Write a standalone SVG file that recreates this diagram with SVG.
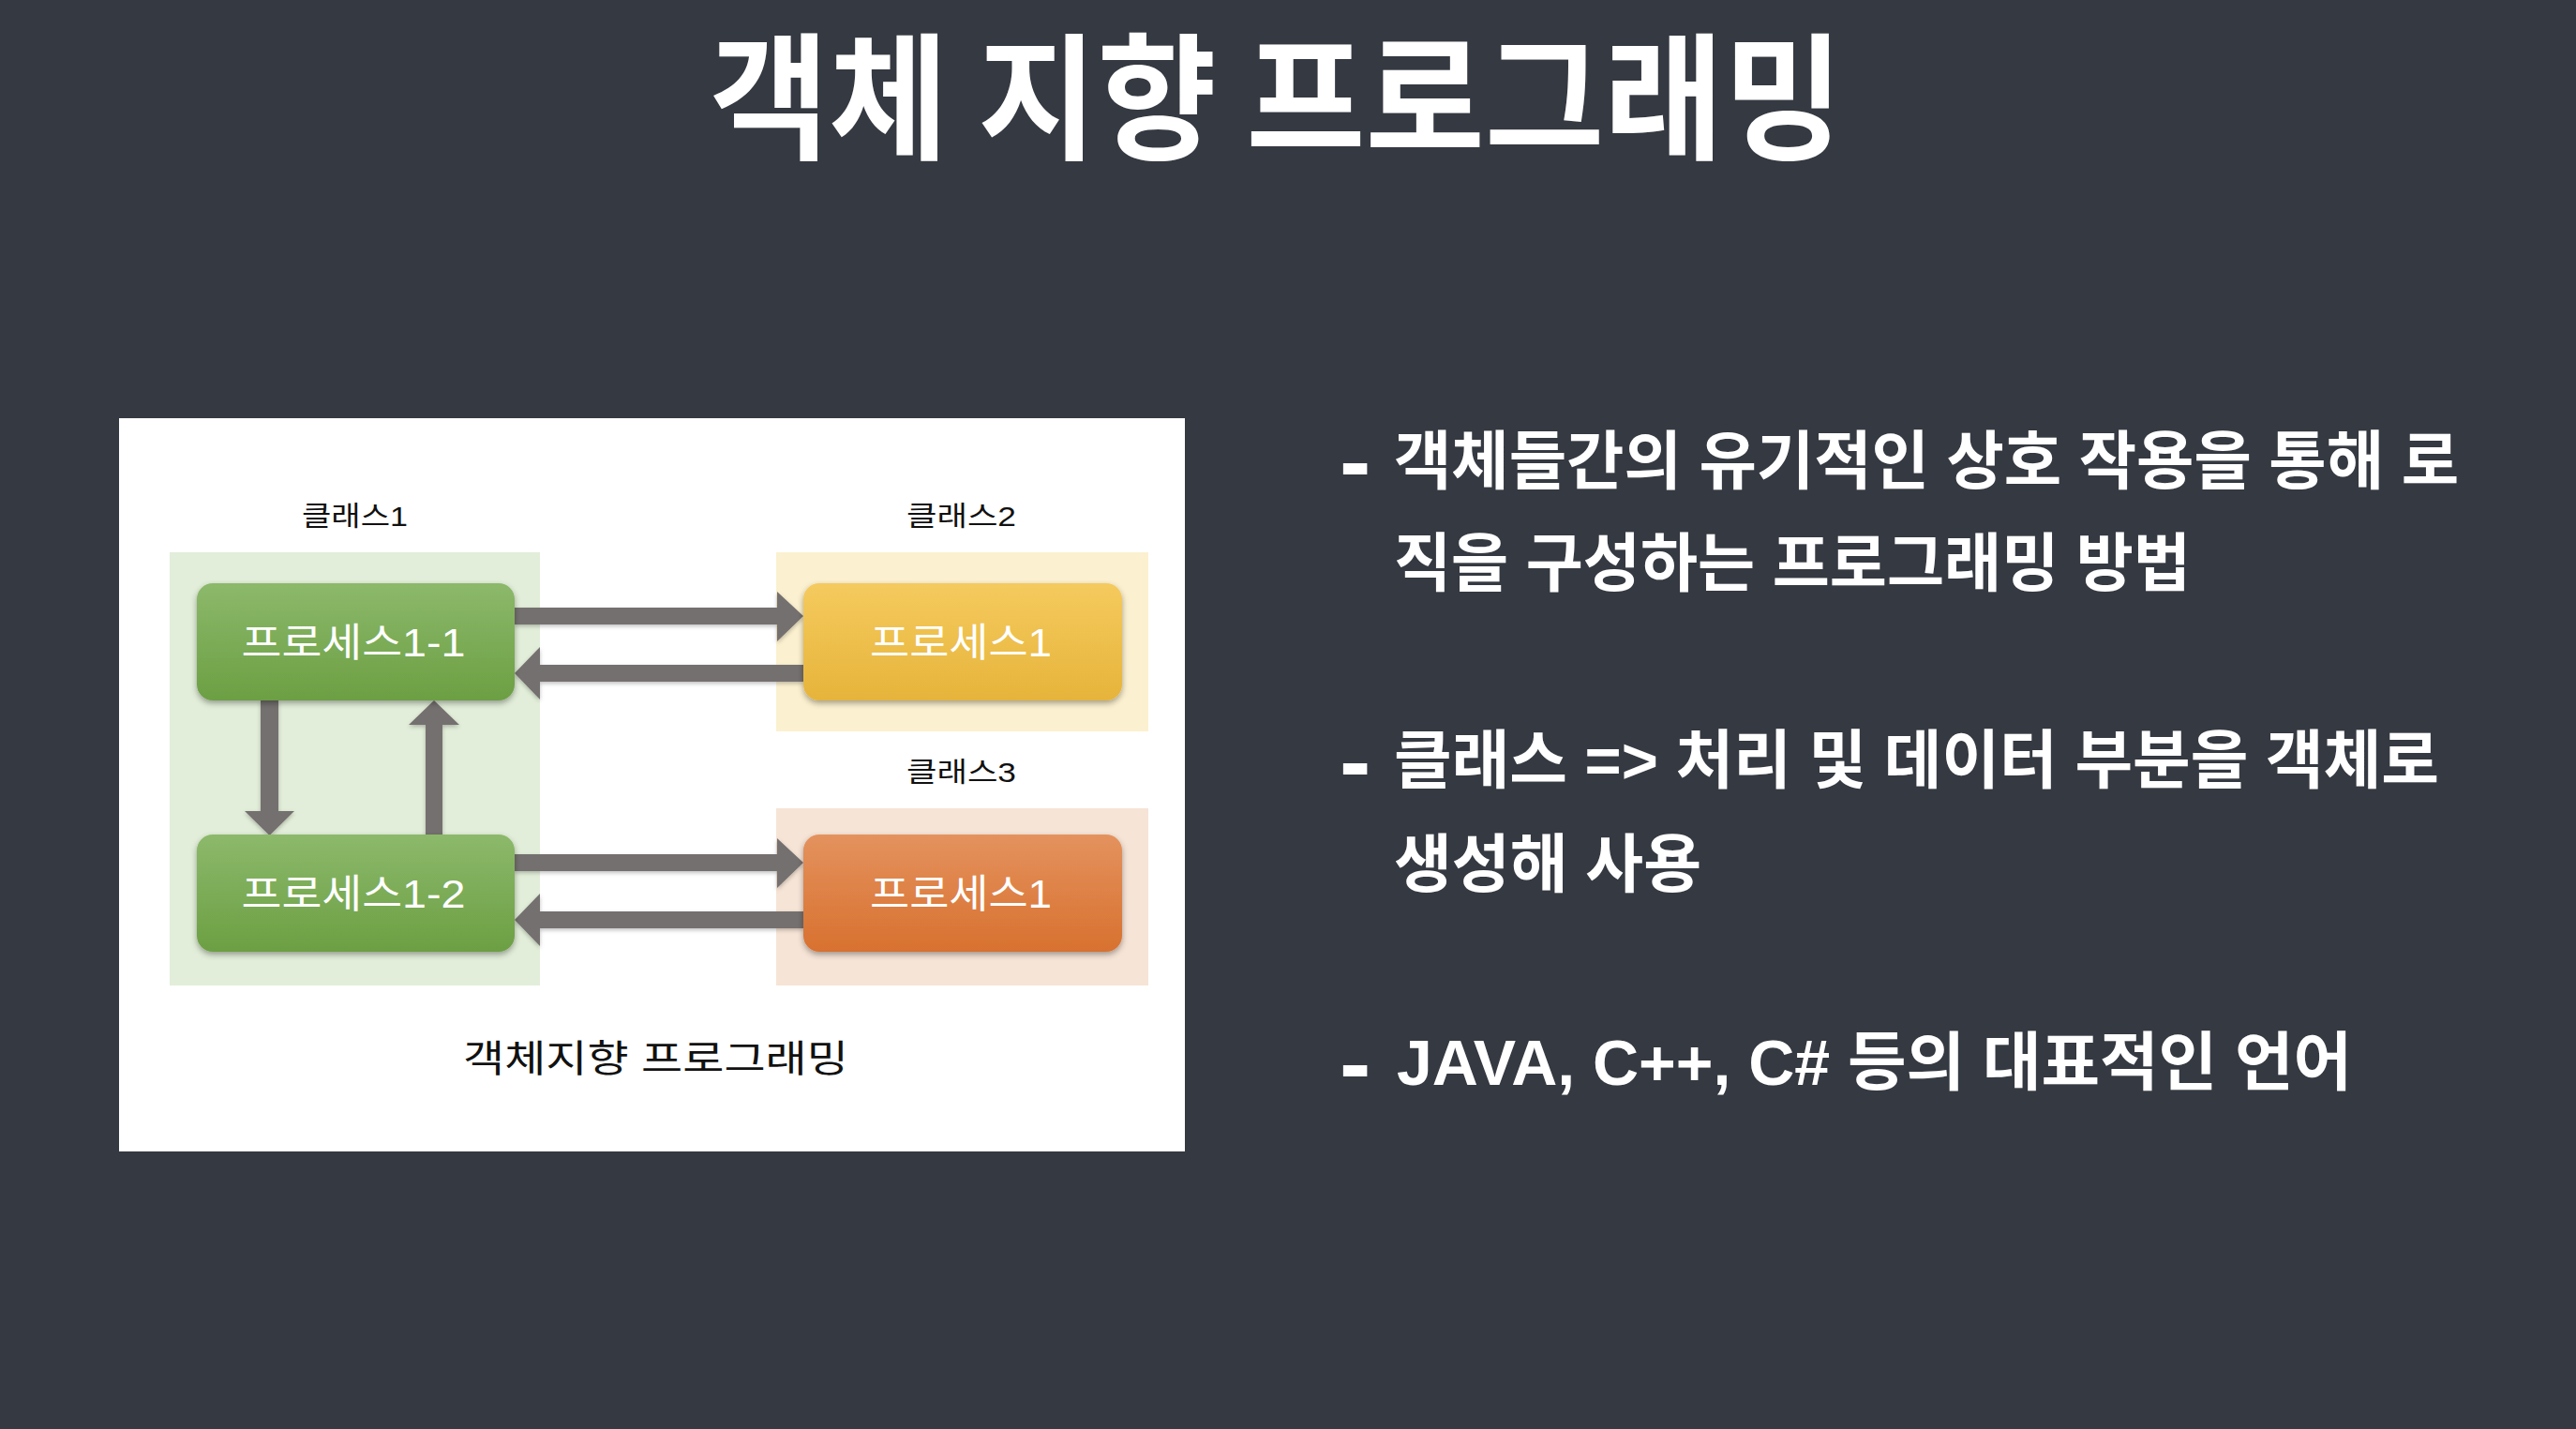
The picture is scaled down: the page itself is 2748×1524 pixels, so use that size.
<svg xmlns="http://www.w3.org/2000/svg" width="2748" height="1524" viewBox="0 0 2748 1524">
<style>
.title{font-family:"Noto Sans CJK KR",sans-serif;font-weight:700;font-size:146px;fill:#ffffff}
.bul{font-family:"Liberation Sans","Noto Sans CJK KR",sans-serif;font-weight:700;font-size:68px;fill:#ffffff}
.dash{font-family:"Liberation Sans",sans-serif;font-weight:700;font-size:100px;fill:#ffffff}
.cls{font-family:"Liberation Sans","Noto Sans CJK KR",sans-serif;font-size:29px;fill:#111111}
.box{font-family:"Liberation Sans","Noto Sans CJK KR",sans-serif;font-size:42px;fill:#ffffff;text-anchor:middle}
.cap{font-family:"Liberation Sans","Noto Sans CJK KR",sans-serif;font-size:40px;fill:#111111}
.arrow{fill:#74706f;filter:url(#ash)}
</style>
<defs>
<linearGradient id="gGreen" x1="0" y1="0" x2="0" y2="1"><stop offset="0" stop-color="#8cb96b"/><stop offset="1" stop-color="#6c9f43"/></linearGradient>
<linearGradient id="gYellow" x1="0" y1="0" x2="0" y2="1"><stop offset="0" stop-color="#f5ca5e"/><stop offset="1" stop-color="#e6b43a"/></linearGradient>
<linearGradient id="gOrange" x1="0" y1="0" x2="0" y2="1"><stop offset="0" stop-color="#e4925e"/><stop offset="1" stop-color="#d8712f"/></linearGradient>
<filter id="bsh" x="-10%" y="-10%" width="120%" height="130%"><feDropShadow dx="0" dy="3" stdDeviation="3" flood-color="#000" flood-opacity="0.35"/></filter>
<filter id="ash" x="-10%" y="-20%" width="120%" height="140%"><feDropShadow dx="0" dy="2" stdDeviation="2" flood-color="#000" flood-opacity="0.25"/></filter>
</defs>
<rect width="2748" height="1524" fill="#353941"/>
<text class="title" x="757" y="158" textLength="1209" lengthAdjust="spacingAndGlyphs">객체 지향 프로그래밍</text>

<g id="panel">
<rect x="127" y="446" width="1137" height="782" fill="#ffffff"/>
<rect x="181" y="589" width="395" height="462" fill="#e2eed9"/>
<rect x="828" y="589" width="397" height="191" fill="#fbf0cf"/>
<rect x="828" y="862" width="397" height="189" fill="#f6e4d6"/>
<text class="cls" x="322" y="561" textLength="113" lengthAdjust="spacingAndGlyphs">클래스1</text>
<text class="cls" x="967" y="561" textLength="117" lengthAdjust="spacingAndGlyphs">클래스2</text>
<text class="cls" x="967" y="834" textLength="117" lengthAdjust="spacingAndGlyphs">클래스3</text>
<text class="cap" x="494" y="1143" textLength="411" lengthAdjust="spacingAndGlyphs">객체지향 프로그래밍</text>
</g>

<g id="connectors">
<path class="arrow" d="M549,648 L829,648 L829,631 L857,657 L829,684 L829,666 L549,666 Z"/>
<path class="arrow" d="M857,709 L576,709 L576,690 L549,718 L576,746 L576,727 L857,727 Z"/>
<path class="arrow" d="M549,911 L829,911 L829,894 L857,920 L829,947 L829,929 L549,929 Z"/>
<path class="arrow" d="M857,972 L576,972 L576,953 L549,981 L576,1009 L576,990 L857,990 Z"/>
<path class="arrow" d="M278,747 L278,865 L261,865 L287.5,891 L314,865 L297,865 L297,747 Z"/>
<path class="arrow" d="M454,890 L454,773 L436,773 L463,747 L490,773 L472,773 L472,890 Z"/>
</g>

<g id="node-p11">
<rect x="210" y="622" width="339" height="125" rx="17" fill="url(#gGreen)" filter="url(#bsh)"/>
<text class="box" x="377" y="700" textLength="239" lengthAdjust="spacingAndGlyphs">프로세스1-1</text>
</g>
<g id="node-p12">
<rect x="210" y="890" width="339" height="125" rx="17" fill="url(#gGreen)" filter="url(#bsh)"/>
<text class="box" x="377" y="968" textLength="239" lengthAdjust="spacingAndGlyphs">프로세스1-2</text>
</g>
<g id="node-c2">
<rect x="857" y="622" width="340" height="125" rx="17" fill="url(#gYellow)" filter="url(#bsh)"/>
<text class="box" x="1025" y="700" textLength="194" lengthAdjust="spacingAndGlyphs">프로세스1</text>
</g>
<g id="node-c3">
<rect x="857" y="890" width="340" height="125" rx="17" fill="url(#gOrange)" filter="url(#bsh)"/>
<text class="box" x="1025" y="968" textLength="194" lengthAdjust="spacingAndGlyphs">프로세스1</text>
</g>

<g id="bullets">
<text class="dash" x="1429" y="526">-</text>
<text class="bul" x="1487" y="516" textLength="1136" lengthAdjust="spacingAndGlyphs">객체들간의 유기적인 상호 작용을 통해 로</text>
<text class="bul" x="1487" y="625" textLength="850" lengthAdjust="spacingAndGlyphs">직을 구성하는 프로그래밍 방법</text>
<text class="dash" x="1429" y="846">-</text>
<text class="bul" x="1487" y="835" textLength="1115" lengthAdjust="spacingAndGlyphs">클래스 =&gt; 처리 및 데이터 부분을 객체로</text>
<text class="bul" x="1487" y="946" textLength="328" lengthAdjust="spacingAndGlyphs">생성해 사용</text>
<text class="dash" x="1429" y="1168">-</text>
<text class="bul" x="1490" y="1157" textLength="1019" lengthAdjust="spacingAndGlyphs">JAVA, C++, C# 등의 대표적인 언어</text>
</g>
</svg>
